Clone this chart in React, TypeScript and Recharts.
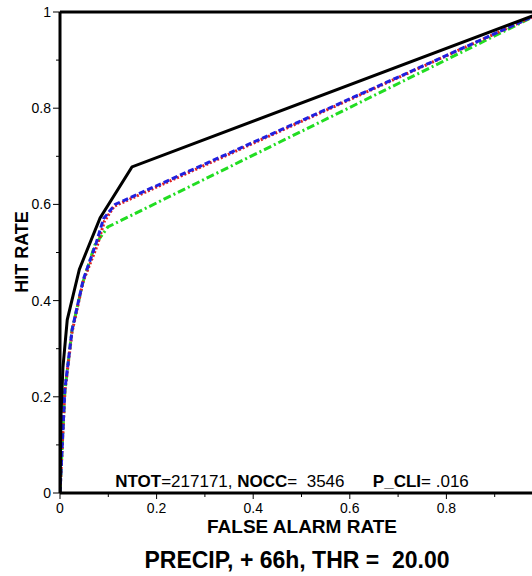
import { LineChart, Line, XAxis, YAxis, ReferenceLine } from "recharts";

// ROC points: false alarm rate (x) and hit rate (y) per curve
const blackFar = [0, 0.002, 0.006, 0.015, 0.04, 0.083, 0.149, 1];
const blackHit = [0, 0.16, 0.26, 0.36, 0.465, 0.572, 0.678, 1];

const blueFar = [0, 0.01, 0.025, 0.048, 0.075, 0.09, 0.114, 1];
const blueHit = [0, 0.214, 0.339, 0.443, 0.52, 0.57, 0.6, 1];

const redFar = [0, 0.01, 0.025, 0.048, 0.078, 0.092, 0.112, 1];
const redHit = [0, 0.21, 0.335, 0.44, 0.517, 0.565, 0.596, 1];

const greenFar = [0, 0.01, 0.025, 0.048, 0.072, 0.099, 1];
const greenHit = [0, 0.21, 0.34, 0.44, 0.515, 0.553, 1];

const axisTicks = [0, 0.1, 0.2, 0.3, 0.4, 0.5, 0.6, 0.7, 0.8, 0.9, 1];
const yLabels: Record<string, string> = {
  "0": "0",
  "0.2": "0.2",
  "0.4": "0.4",
  "0.6": "0.6",
  "0.8": "0.8",
  "1": "1",
};
// the right end of the x axis is cut off in the picture, so no "1" there
const xLabels: Record<string, string> = {
  "0": "0",
  "0.2": "0.2",
  "0.4": "0.4",
  "0.6": "0.6",
  "0.8": "0.8",
};

const font = "'Liberation Sans', Arial, Helvetica, sans-serif";

const toPoints = (far: number[], hit: number[]) =>
  far.map((x, i) => ({ far: x, hit: hit[i] }));

const key = (v: number) => String(Math.round(v * 10) / 10);

const XTick = (props: any) => {
  const { x, y, payload } = props;
  const major = Math.round(payload.value * 10) % 2 === 0;
  const label = xLabels[key(payload.value)];
  return (
    <g>
      <line x1={x} x2={x} y1={y} y2={y + (major ? 6 : 4)} stroke="#000" strokeWidth={1} />
      {label && (
        <text x={x} y={y + 20} textAnchor="middle" fontSize={14} fontFamily={font} fill="#000">
          {label}
        </text>
      )}
    </g>
  );
};

const YTick = (props: any) => {
  const { x, y, payload } = props;
  const label = yLabels[key(payload.value)];
  return (
    <g>
      <line x1={x - (label ? 7 : 4)} x2={x} y1={y} y2={y} stroke="#000" strokeWidth={1} />
      {label && (
        <text x={x - 9} y={y + 5} textAnchor="end" fontSize={14} fontFamily={font} fill="#000">
          {label}
        </text>
      )}
    </g>
  );
};

export default function App() {
  return (
    <div
      style={{
        position: "fixed",
        left: 0,
        top: 0,
        width: 532,
        height: 576,
        overflow: "hidden",
        background: "#fff",
      }}
    >
      <LineChart
        width={560}
        height={576}
        margin={{ top: 12, right: 17, bottom: 53, left: 0 }}
      >
        <XAxis
          type="number"
          dataKey="far"
          domain={[0, 1]}
          ticks={axisTicks}
          height={30}
          tickSize={0}
          tickMargin={0}
          tickLine={false}
          axisLine={{ stroke: "#000", strokeWidth: 3 }}
          tick={<XTick />}
          allowDataOverflow
        />
        <YAxis
          type="number"
          dataKey="hit"
          domain={[0, 1]}
          ticks={axisTicks}
          width={60}
          tickSize={0}
          tickMargin={0}
          tickLine={false}
          axisLine={{ stroke: "#000", strokeWidth: 3 }}
          tick={<YTick />}
          allowDataOverflow
        />
        <ReferenceLine y={1} stroke="#000" strokeWidth={3} />
        <Line
          data={toPoints(greenFar, greenHit)}
          dataKey="hit"
          type="linear"
          stroke="#22dd22"
          strokeWidth={3}
          strokeDasharray="8 3 2 3"
          dot={false}
          isAnimationActive={false}
        />
        <Line
          data={toPoints(redFar, redHit)}
          dataKey="hit"
          type="linear"
          stroke="#e02020"
          strokeWidth={3}
          strokeDasharray="2 2"
          dot={false}
          isAnimationActive={false}
        />
        <Line
          data={toPoints(blueFar, blueHit)}
          dataKey="hit"
          type="linear"
          stroke="#2020e0"
          strokeWidth={3}
          strokeDasharray="6 3"
          dot={false}
          isAnimationActive={false}
        />
        <Line
          data={toPoints(blackFar, blackHit)}
          dataKey="hit"
          type="linear"
          stroke="#000"
          strokeWidth={3}
          dot={false}
          isAnimationActive={false}
        />
      </LineChart>
      <svg
        width={532}
        height={576}
        style={{ position: "absolute", left: 0, top: 0, pointerEvents: "none" }}
      >
        <text
          x={292}
          y={487}
          textAnchor="middle"
          fontSize={17}
          fontFamily={font}
          fill="#000"
          style={{ whiteSpace: "pre" }}
        >
          <tspan fontWeight="bold">NTOT</tspan>
          <tspan>=217171, </tspan>
          <tspan fontWeight="bold">NOCC</tspan>
          <tspan>=  3546      </tspan>
          <tspan fontWeight="bold">P_CLI</tspan>
          <tspan>= .016</tspan>
        </text>
        <text
          x={302}
          y={533}
          textAnchor="middle"
          fontSize={19}
          fontWeight="bold"
          fontFamily={font}
          fill="#000"
        >
          FALSE ALARM RATE
        </text>
        <text
          x={28}
          y={252}
          textAnchor="middle"
          fontSize={18}
          fontWeight="bold"
          fontFamily={font}
          fill="#000"
          transform="rotate(-90 28 252)"
        >
          HIT RATE
        </text>
        <text
          x={297}
          y={568}
          textAnchor="middle"
          fontSize={23}
          fontWeight="bold"
          fontFamily={font}
          fill="#000"
          style={{ whiteSpace: "pre" }}
        >
          PRECIP, + 66h, THR =  20.00
        </text>
      </svg>
    </div>
  );
}
